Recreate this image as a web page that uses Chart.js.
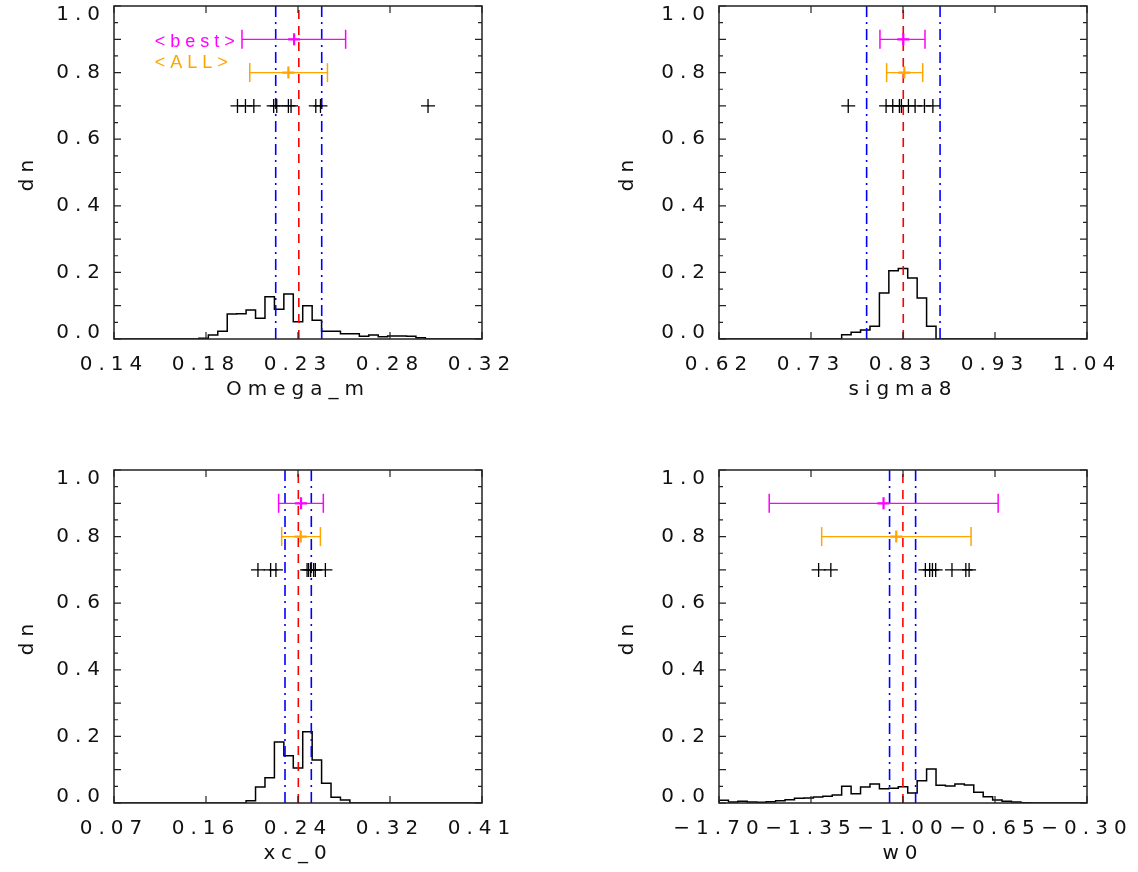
<!DOCTYPE html>
<html>
<head>
<meta charset="utf-8">
<title>dn histograms</title>
<script src="https://cdn.jsdelivr.net/npm/chart.js@4.4.1/dist/chart.umd.min.js"></script>
<style>
  html, body { margin: 0; padding: 0; background: #fff; }
  #wrap { position: relative; width: 1138px; height: 872px; }
  canvas { position: absolute; }
</style>
</head>
<body>
<div id="wrap">
  <canvas id="c-omega" width="569" height="436" style="left:0;top:0"></canvas>
  <canvas id="c-sigma" width="569" height="436" style="left:569px;top:0"></canvas>
  <canvas id="c-xc" width="569" height="436" style="left:0;top:436px"></canvas>
  <canvas id="c-w0" width="569" height="436" style="left:569px;top:436px"></canvas>
</div>
<script>
// histograms use 39 equal bins over the x range of each panel
const NBINS = 39;
const yTickLabels = ['0.0', '0.2', '0.4', '0.6', '0.8', '1.0'];
const rowLevels = [0.9, 0.8, 0.7];          // <best>, <ALL>, single runs
const tagNames = ['<best>', '<ALL>'];

// Omega_m
const omegaRange = [0.14, 0.32];
const omegaTicks = ['0.14', '0.18', '0.23', '0.28', '0.32'];
const omegaFirstBin = 9;
const omegaHist = [0.002, 0.012, 0.023, 0.075, 0.076, 0.087, 0.062, 0.127, 0.089, 0.135,
                   0.052, 0.100, 0.056, 0.023, 0.023, 0.016, 0.016, 0.008, 0.012, 0.007,
                   0.009, 0.009, 0.008, 0.004];
const omegaBand = [0.2191, 0.2304, 0.2416];
const omegaBest = [0.2026, 0.2281, 0.2533];
const omegaAll = [0.2064, 0.2253, 0.2444];
const omegaRuns = [0.2004, 0.2043, 0.2084, 0.2181, 0.2196, 0.2253, 0.2266, 0.2387, 0.2410, 0.2936];

// sigma8
const sigmaRange = [0.62, 1.04];
const sigmaTicks = ['0.62', '0.73', '0.83', '0.93', '1.04'];
const sigmaFirstBin = 13;
const sigmaHist = [0.013, 0.020, 0.027, 0.038, 0.138, 0.205, 0.212, 0.183, 0.123, 0.038];
const sigmaBand = [0.7885, 0.8303, 0.8723];
const sigmaBest = [0.8037, 0.8303, 0.8551];
const sigmaAll = [0.8113, 0.8315, 0.8525];
const sigmaRuns = [0.7675, 0.8107, 0.8183, 0.8259, 0.8282, 0.8362, 0.8438, 0.8545, 0.8641];

// xc_0
const xcRange = [0.07, 0.41];
const xcTicks = ['0.07', '0.16', '0.24', '0.32', '0.41'];
const xcFirstBin = 14;
const xcHist = [0.007, 0.048, 0.076, 0.183, 0.142, 0.105, 0.214, 0.129, 0.059, 0.017, 0.009];
const xcBand = [0.2280, 0.2403, 0.2523];
const xcBest = [0.2221, 0.2428, 0.2634];
const xcAll = [0.2249, 0.2425, 0.2607];
const xcRuns = [0.2030, 0.2147, 0.2196, 0.2484, 0.2498, 0.2517, 0.2545, 0.2560, 0.2653];

// w0
const w0Range = [-1.7, -0.3];
const w0Ticks = ['\u22121.70', '\u22121.35', '\u22121.00', '\u22120.65', '\u22120.30'];
const w0FirstBin = 0;
const w0Hist = [0.008, 0.003, 0.005, 0.003, 0.002, 0.004, 0.007, 0.010, 0.014, 0.015,
                0.018, 0.020, 0.024, 0.050, 0.028, 0.048, 0.057, 0.043, 0.044, 0.049,
                0.030, 0.067, 0.102, 0.053, 0.051, 0.057, 0.054, 0.032, 0.019, 0.009,
                0.005, 0.003, 0.001];
const w0Band = [-1.0511, -1.0004, -0.9520];
const w0Best = [-1.509, -1.074, -0.638];
const w0All = [-1.3095, -1.0257, -0.741];
const w0Runs = [-1.321, -1.2745, -0.9149, -0.8985, -0.888, -0.8756, -0.8137, -0.761, -0.7485];

const MAGENTA = '#ff00ff';
const ORANGE = '#ffa500';
const RED = '#ff0000';
const BLUE = '#0000ff';
const INK = '#111';

Chart.defaults.font.family = '"DejaVu Sans", sans-serif';
Chart.defaults.color = INK;

// wide glyph spacing, close to the vector font look
const spacing = {
    id: 'spacing',
    beforeLayout(chart) { chart.ctx.letterSpacing = '6px'; },
    beforeDraw(chart) { chart.ctx.letterSpacing = '6px'; }
};

// closed box with inward tick marks on all four sides
const idlFrame = {
    id: 'idlFrame',
    afterDraw(chart) {
        const { ctx, chartArea: a, scales: { x, y } } = chart;
        ctx.save();
        ctx.strokeStyle = '#222';
        ctx.lineWidth = 1.5;
        ctx.strokeRect(a.left, a.top, a.right - a.left, a.bottom - a.top);
        ctx.lineWidth = 1.2;
        ctx.beginPath();
        y.ticks.forEach((t, i) => {
            const py = y.getPixelForValue(t.value);
            const len = i % 2 === 0 ? 7 : 4;
            ctx.moveTo(a.left, py); ctx.lineTo(a.left + len, py);
            ctx.moveTo(a.right, py); ctx.lineTo(a.right - len, py);
        });
        x.ticks.forEach(t => {
            const px = x.getPixelForValue(t.value);
            ctx.moveTo(px, a.bottom); ctx.lineTo(px, a.bottom - 7);
            ctx.moveTo(px, a.top); ctx.lineTo(px, a.top + 7);
        });
        ctx.stroke();
        ctx.restore();
    }
};

// "<best>" / "<ALL>" tags in the first panel
const tagPlugin = {
    id: 'tags',
    afterDatasetsDraw(chart) {
        const { ctx, scales: { x, y } } = chart;
        const colors = [MAGENTA, ORANGE];
        const levels = [0.892, 0.828];
        ctx.save();
        ctx.font = '18px "Liberation Sans", sans-serif';
        ctx.letterSpacing = '5px';
        ctx.textAlign = 'left';
        ctx.textBaseline = 'middle';
        tagNames.forEach((txt, i) => {
            ctx.fillStyle = colors[i];
            ctx.fillText(txt, x.getPixelForValue(0.1599), y.getPixelForValue(levels[i]));
        });
        ctx.restore();
    }
};

function histPoints(range, firstBin, hist) {
    const w = (range[1] - range[0]) / NBINS;
    const x0 = range[0] + firstBin * w;
    const pts = [{ x: range[0], y: 0 }, { x: x0, y: 0 }];
    hist.forEach((h, i) => pts.push({ x: x0 + i * w, y: h }));
    pts.push({ x: x0 + hist.length * w, y: 0 });
    pts.push({ x: range[1], y: 0 });
    return pts;
}

function errorBar(vals, level, color) {
    return [
        {
            data: [{ x: vals[1], y: level }],
            pointStyle: 'cross', pointRadius: 6,
            pointBorderColor: color, pointBorderWidth: 2.2
        },
        {
            data: [{ x: vals[0], y: level }, { x: vals[2], y: level }],
            showLine: true, borderColor: color, borderWidth: 1.3,
            pointStyle: 'line', pointRotation: 90, pointRadius: 9.5,
            pointBorderColor: color, pointBorderWidth: 1.5
        }
    ];
}

// end labels sit inside the frame: 1.0 a little below the top, 0.0 a little above the bottom
function yLabel(v, i) {
    if (i % 4 !== 0) return '';
    const txt = yTickLabels[i / 4];
    if (i === 0) return [txt, ''];
    if (i === 20) return ['', txt];
    return txt;
}
function yFont(ctx) {
    if (ctx.index === 0) return { size: 20, lineHeight: 0.6 };
    if (ctx.index === 20) return { size: 20, lineHeight: 0.85 };
    return { size: 20 };
}

function makePanel(id, p) {
    const datasets = [];
    datasets.push({
        data: p.runs.map(v => ({ x: v, y: rowLevels[2] })),
        pointStyle: 'cross', pointRadius: 7,
        pointBorderColor: '#000', pointBorderWidth: 1.3
    });
    datasets.push(...errorBar(p.best, rowLevels[0], MAGENTA));
    datasets.push(...errorBar(p.all, rowLevels[1], ORANGE));
    p.band.forEach((v, i) => {
        datasets.push({
            data: [{ x: v, y: 0 }, { x: v, y: 1 }],
            showLine: true, pointRadius: 0,
            borderColor: i === 1 ? RED : BLUE,
            borderDash: i === 1 ? [9, 7] : [11, 5, 2, 5],
            borderWidth: 1.6
        });
    });
    datasets.push({
        data: histPoints(p.range, p.firstBin, p.hist),
        showLine: true, stepped: 'before',
        borderColor: '#000', borderWidth: 1.5, pointRadius: 0
    });

    const plugins = [spacing, idlFrame];
    if (p.tags) plugins.push(tagPlugin);

    new Chart(document.getElementById(id), {
        type: 'scatter',
        data: { datasets: datasets },
        options: {
            responsive: false,
            animation: false,
            events: [],
            layout: { padding: p.pad, autoPadding: false },
            plugins: { legend: { display: false }, tooltip: { enabled: false } },
            scales: {
                x: {
                    type: 'linear',
                    min: p.range[0], max: p.range[1],
                    grid: { display: false, drawTicks: false },
                    border: { display: false },
                    afterFit: s => { s.height = 69; s.paddingLeft = 0; s.paddingRight = 0; },
                    ticks: {
                        stepSize: (p.range[1] - p.range[0]) / 4,
                        autoSkip: false, maxRotation: 0, padding: 14,
                        font: { size: 20 },
                        callback: (v, i) => p.ticks[i]
                    },
                    title: {
                        display: true, text: p.title,
                        font: { size: 20 },
                        padding: { top: 0, bottom: 6 }
                    }
                },
                y: {
                    min: 0, max: 1,
                    grid: { display: false, drawTicks: false },
                    border: { display: false },
                    afterFit: s => { s.width = p.yWidth; s.paddingTop = 0; s.paddingBottom = 0; },
                    ticks: {
                        stepSize: 0.05, autoSkip: false, padding: 8,
                        font: yFont,
                        callback: yLabel
                    },
                    title: {
                        display: true, text: 'dn',
                        font: { size: 20 },
                        padding: { top: 16, bottom: 0 }
                    }
                }
            }
        },
        plugins: plugins
    });
}

makePanel('c-omega', {
    range: omegaRange, ticks: omegaTicks, firstBin: omegaFirstBin, hist: omegaHist,
    band: omegaBand, best: omegaBest, all: omegaAll, runs: omegaRuns,
    title: 'Omega_m', tags: true, yWidth: 114,
    pad: { left: 0, right: 87, top: 6, bottom: 28 }
});
makePanel('c-sigma', {
    range: sigmaRange, ticks: sigmaTicks, firstBin: sigmaFirstBin, hist: sigmaHist,
    band: sigmaBand, best: sigmaBest, all: sigmaAll, runs: sigmaRuns,
    title: 'sigma8', yWidth: 119,
    pad: { left: 31, right: 51, top: 6, bottom: 28 }
});
makePanel('c-xc', {
    range: xcRange, ticks: xcTicks, firstBin: xcFirstBin, hist: xcHist,
    band: xcBand, best: xcBest, all: xcAll, runs: xcRuns,
    title: 'xc_0', yWidth: 114,
    pad: { left: 0, right: 87, top: 34, bottom: 0 }
});
makePanel('c-w0', {
    range: w0Range, ticks: w0Ticks, firstBin: w0FirstBin, hist: w0Hist,
    band: w0Band, best: w0Best, all: w0All, runs: w0Runs,
    title: 'w0', yWidth: 119,
    pad: { left: 31, right: 51, top: 34, bottom: 0 }
});
</script>
</body>
</html>
